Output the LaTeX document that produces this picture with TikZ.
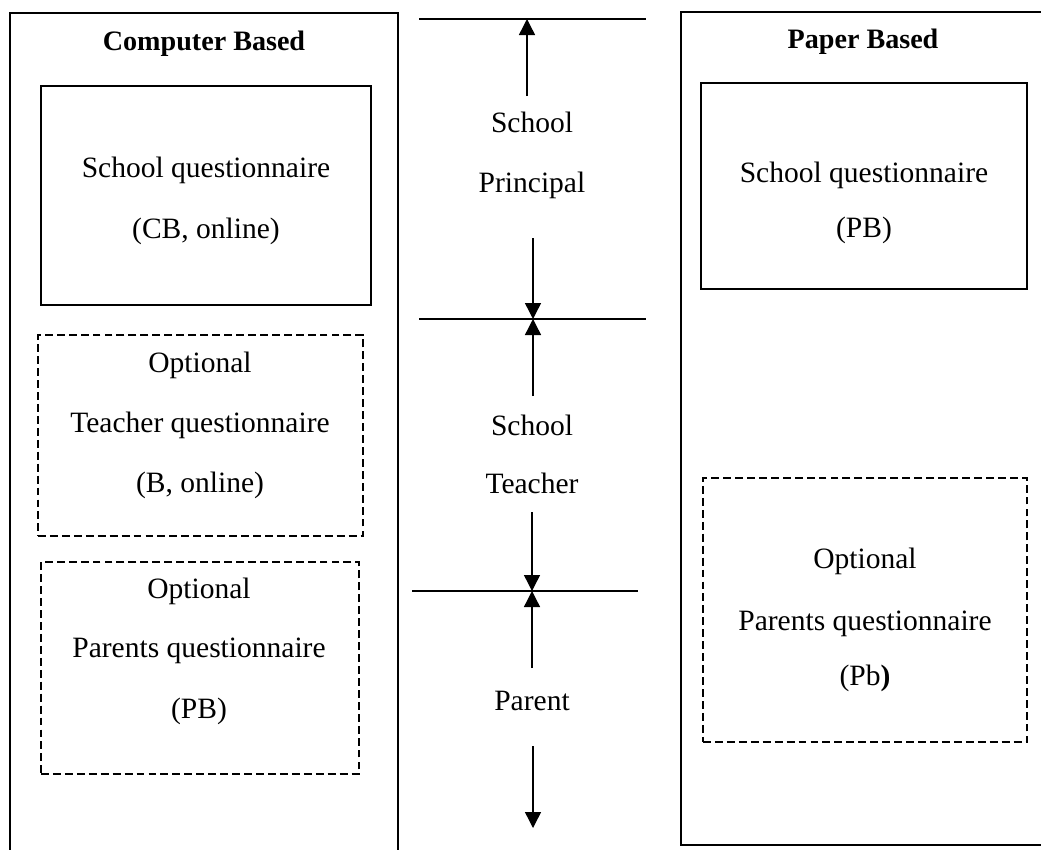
\documentclass[tikz,border=0pt]{standalone}
\usepackage{fontspec}
\setmainfont{Liberation Serif}
\usetikzlibrary{arrows.meta}
\begin{document}
\begin{tikzpicture}[x=0.02cm,y=-0.02cm,
  outer/.style={line width=1.4pt},
  solidbox/.style={draw,line width=1.4pt,rectangle,inner sep=0pt},
  dashbox/.style={draw,line width=1.1pt,rectangle,inner sep=0pt,dash pattern=on 4.5pt off 2.3pt},
  txt/.style={anchor=base,inner sep=0pt,font=\fontsize{16.8}{20}\selectfont},
  head/.style={anchor=base,inner sep=0pt,font=\fontsize{16}{20}\selectfont\bfseries},
  sep/.style={line width=0.8pt},
  arr/.style={line width=0.8pt,-{Triangle[width=0.32cm,length=0.32cm]}}]
\useasboundingbox (0,0) rectangle (1041,849);
% outer frames
\draw[outer] (10,852) -- (10,13) -- (398,13) -- (398,852);
\draw[outer] (1046,12) -- (681,12) -- (681,845) -- (1046,845);
\node[head] (cb) at (204,50) {Computer Based};
\node[head] (pb) at (863,48) {Paper Based};
% left boxes
\node[solidbox,minimum width=330*0.02cm,minimum height=219*0.02cm] (sqcb) at (206,195.5) {};
\node[txt] (sqcb1) at (206,177) {School questionnaire};
\node[txt] (sqcb2) at (206,238) {(CB, online)};
\node[dashbox,minimum width=325*0.02cm,minimum height=201*0.02cm] (tq) at (200.5,435.5) {};
\node[txt] (tq1) at (200,372) {Optional};
\node[txt] (tq2) at (200,432) {Teacher questionnaire};
\node[txt] (tq3) at (200,492) {(B, online)};
\node[dashbox,minimum width=318*0.02cm,minimum height=212*0.02cm] (pqcb) at (200,668) {};
\node[txt] (pqcb1) at (199,598) {Optional};
\node[txt] (pqcb2) at (199,657) {Parents questionnaire};
\node[txt] (pqcb3) at (199,718) {(PB)};
% right boxes
\node[solidbox,minimum width=326*0.02cm,minimum height=206*0.02cm] (sqpb) at (864,186) {};
\node[txt] (sqpb1) at (864,182) {School questionnaire};
\node[txt] (sqpb2) at (864,237) {(PB)};
\node[dashbox,minimum width=324*0.02cm,minimum height=264*0.02cm] (pqpb) at (865,610) {};
\node[txt] (pqpb1) at (865,568) {Optional};
\node[txt] (pqpb2) at (865,630) {Parents questionnaire};
\node[txt] (pqpb3) at (865,685) {(Pb\textbf{)}};
% middle labels
\node[txt] (sp1) at (532,132) {School};
\node[txt] (sp2) at (532,192) {Principal};
\node[txt] (st1) at (532,435) {School};
\node[txt] (st2) at (532,493) {Teacher};
\node[txt] (pa) at (532,710) {Parent};
% separator lines
\coordinate (l1w) at (419,19);  \coordinate (l1e) at (646,19);
\coordinate (l2w) at (419,319); \coordinate (l2e) at (646,319);
\coordinate (l3w) at (412,591); \coordinate (l3e) at (638,591);
\draw[sep] (l1w) -- (l1e);
\draw[sep] (l2w) -- (l2e);
\draw[sep] (l3w) -- (l3e);
% arrow end points
\coordinate (a1s) at (527,96);  \coordinate (a1e) at (527,19);
\coordinate (a2s) at (533,238); \coordinate (a2e) at (533,319);
\coordinate (a3s) at (533,396); \coordinate (a3e) at (533,319);
\coordinate (a4s) at (532,512); \coordinate (a4e) at (532,591);
\coordinate (a5s) at (532,668); \coordinate (a5e) at (532,591);
\coordinate (a6s) at (533,746); \coordinate (a6e) at (533,828);
\draw[arr] (a1s) -- (a1e);
\draw[arr] (a2s) -- (a2e);
\draw[arr] (a3s) -- (a3e);
\draw[arr] (a4s) -- (a4e);
\draw[arr] (a5s) -- (a5e);
\draw[arr] (a6s) -- (a6e);
\end{tikzpicture}
\end{document}
